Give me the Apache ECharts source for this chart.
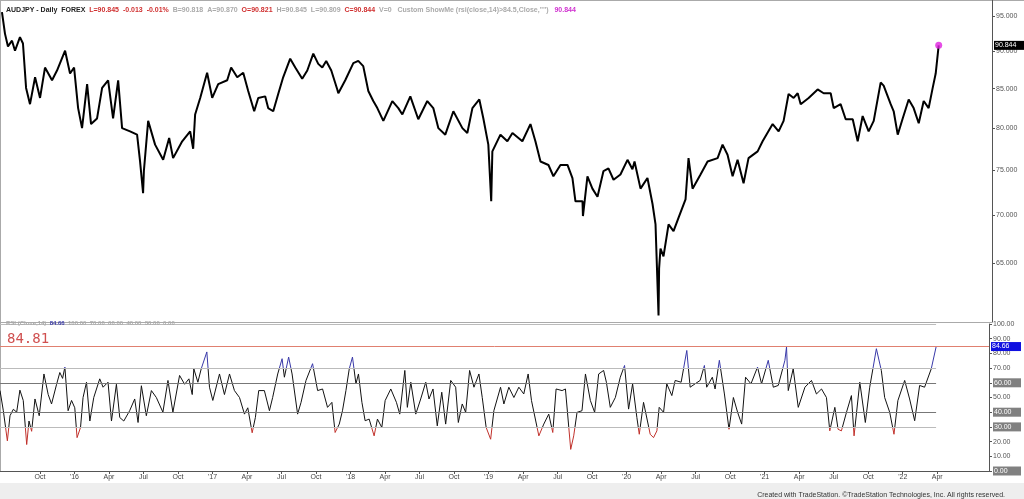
<!DOCTYPE html>
<html>
<head>
<meta charset="utf-8">
<script src="https://cdn.jsdelivr.net/npm/echarts@6/dist/echarts.min.js"></script>
<style>
  html, body { margin: 0; padding: 0; background: #fff; }
  #chart { width: 1024px; height: 499px; }
</style>
</head>
<body>
<div id="chart"></div>
<script>
// x values are months counted from Jul 2015 (0 = Jul 2015, 6 = Jan 2016 ...)
var priceMonths = [-0.30, -0.04, 0.22, 0.57, 0.83, 1.26, 1.52, 1.79, 2.13, 2.57, 3.00, 3.43, 4.04, 4.47, 5.17, 5.60, 5.95, 6.30, 6.64, 7.08,
	7.42, 7.94, 8.38, 8.90, 9.33, 9.77, 10.11, 10.80, 11.41, 11.67, 11.93, 12.00, 12.37, 12.97, 13.67, 14.19, 14.53, 15.32, 16.01, 16.27,
	16.44, 16.88, 17.48, 17.92, 18.44, 19.22, 19.56, 20.09, 20.61, 21.04, 21.56, 21.91, 22.51, 22.77, 23.21, 23.64, 24.07, 24.68, 25.12, 25.72,
	26.16, 26.68, 27.11, 27.46, 27.80, 28.24, 28.76, 28.85, 29.45, 30.15, 30.58, 31.01, 31.45, 31.88, 32.23, 32.75, 33.53, 34.05, 34.40, 35.09,
	35.78, 36.56, 37.08, 37.52, 38.12, 38.82, 39.60, 40.03, 40.47, 41.07, 41.42, 41.85, 42.10, 42.20, 42.90, 43.50, 43.94, 44.80, 45.50, 45.93,
	46.37, 47.06, 47.49, 48.10, 48.71, 49.14, 49.40, 50.01, 50.05, 50.44, 50.87, 51.31, 51.83, 52.26, 52.70, 53.30, 53.91, 54.34, 54.52, 55.04,
	55.64, 56.08, 56.34, 56.60, 56.65, 56.77, 57.03, 57.47, 57.90, 58.33, 58.94, 59.20, 59.55, 60.24, 60.85, 61.72, 62.15, 62.58, 63.02, 63.45,
	63.97, 64.40, 65.19, 65.62, 66.49, 67.01, 67.44, 67.87, 68.31, 68.66, 68.92, 69.61, 70.39, 70.91, 71.52, 71.78, 72.38, 72.82, 73.43, 73.86,
	74.29, 74.81, 75.25, 75.85, 76.11, 76.72, 76.98, 77.33, 77.76, 78.28, 78.71, 79.15, 79.58, 80.01, 80.36, 80.62, 80.88];
var priceValues = [95.6, 92.5, 90.7, 91.5, 90.1, 92.0, 91.1, 85.1, 83.0, 86.5, 83.8, 87.8, 86.1, 87.4, 90.1, 87.0, 87.8, 82.5, 80.0, 85.6,
	80.5, 81.2, 85.1, 86.1, 81.2, 86.1, 80.0, 79.6, 79.2, 76.0, 72.4, 74.9, 80.9, 78.0, 76.2, 78.8, 76.4, 78.4, 79.6, 77.5,
	81.7, 83.8, 87.1, 83.8, 85.6, 86.1, 87.8, 86.5, 87.1, 84.7, 82.1, 83.8, 84.0, 82.5, 82.1, 84.3, 86.5, 89.0, 87.8, 86.3,
	87.4, 89.7, 88.3, 87.8, 88.7, 87.4, 84.9, 84.4, 86.1, 88.4, 88.7, 88.0, 84.7, 83.4, 82.5, 80.9, 83.4, 82.5, 81.7, 84.0,
	81.1, 83.4, 82.5, 80.0, 79.2, 82.1, 80.0, 79.4, 82.5, 83.6, 81.2, 78.0, 71.5, 77.2, 79.2, 78.4, 79.4, 78.4, 80.5, 78.4,
	76.0, 75.6, 74.3, 75.6, 75.6, 74.1, 71.5, 71.5, 69.9, 74.3, 72.9, 72.0, 74.9, 75.2, 73.9, 74.5, 76.2, 75.1, 76.0, 72.9,
	74.1, 71.2, 69.0, 60.0, 64.5, 66.5, 65.7, 69.0, 68.3, 69.7, 71.7, 76.4, 72.9, 74.5, 76.0, 76.4, 78.0, 76.8, 74.3, 76.2,
	73.5, 76.4, 77.2, 78.4, 80.5, 79.6, 80.9, 84.3, 83.8, 84.4, 83.0, 83.8, 84.9, 84.4, 84.4, 82.5, 83.0, 81.1, 81.1, 78.4,
	81.5, 79.6, 80.9, 85.8, 85.4, 83.0, 82.1, 79.2, 81.2, 83.6, 82.5, 80.6, 83.4, 82.5, 85.1, 87.0, 90.844];

var rsiMonths = [-0.47, -0.18, 0.17, 0.40, 0.69, 0.98, 1.26, 1.55, 1.85, 2.05, 2.28, 2.57, 2.94, 3.35, 3.72, 4.01, 4.45, 4.73, 4.97, 5.17,
	5.45, 5.75, 6.03, 6.23, 6.53, 6.75, 7.05, 7.34, 7.68, 8.20, 8.49, 8.92, 9.22, 9.65, 9.94, 10.29, 10.80, 11.24, 11.53, 11.82,
	12.25, 12.69, 13.12, 13.69, 14.13, 14.56, 15.14, 15.58, 15.95, 16.24, 16.38, 16.73, 17.02, 17.51, 17.74, 18.03, 18.61, 19.04, 19.48, 19.91,
	20.35, 20.78, 21.07, 21.45, 21.73, 22.02, 22.51, 22.95, 23.23, 23.67, 24.05, 24.25, 24.62, 24.92, 25.40, 25.70, 26.13, 26.70, 27.14, 27.57,
	28.00, 28.38, 28.66, 29.02, 29.30, 29.60, 29.89, 30.17, 30.47, 30.69, 30.99, 31.27, 31.62, 32.05, 32.34, 32.72, 33.01, 33.50, 33.99, 34.28,
	34.72, 34.94, 35.24, 35.67, 36.10, 36.54, 36.82, 37.17, 37.54, 37.93, 38.27, 38.71, 39.14, 39.37, 39.71, 40.01, 40.35, 40.73, 41.16, 41.45,
	41.79, 42.18, 42.46, 43.04, 43.33, 43.76, 44.20, 44.63, 45.06, 45.44, 45.73, 46.37, 46.80, 47.23, 47.58, 47.87, 48.39, 48.68, 49.14, 49.40,
	49.69, 50.12, 50.42, 50.85, 51.22, 51.57, 52.00, 52.24, 52.58, 53.02, 53.45, 53.82, 54.17, 54.52, 54.89, 55.10, 55.47, 56.05, 56.34, 56.63,
	56.83, 57.21, 57.49, 57.93, 58.22, 58.74, 59.23, 59.52, 59.95, 60.39, 60.76, 60.96, 61.45, 61.69, 62.06, 62.50, 62.90, 63.28, 63.65, 64.00,
	64.34, 64.81, 65.38, 65.73, 66.31, 66.75, 67.18, 67.76, 67.90, 68.05, 68.48, 68.92, 69.50, 70.07, 70.50, 70.94, 71.37, 71.66, 72.10, 72.38,
	72.67, 73.11, 73.54, 73.77, 74.27, 74.75, 75.13, 75.71, 76.14, 76.43, 76.87, 77.24, 77.58, 78.17, 78.60, 79.04, 79.47, 79.90, 80.48, 80.91];
var rsiValues = [54.7, 41, 20.5, 37.6, 42, 40, 55, 48, 18, 34, 27, 49, 37.6, 66, 52, 45.6, 59, 67, 63, 70.7,
	41, 48, 43, 22.7, 29.6, 50, 60.4, 34, 50, 62.7, 57, 60.4, 34, 59, 36.4, 34, 41, 49, 33, 58,
	37.6, 54.7, 50, 40, 61.6, 40, 65, 59, 62.7, 52, 69.5, 60.4, 69.5, 81, 57, 48, 66, 52, 66, 54.7,
	50, 38.7, 43, 26, 36.4, 54.7, 54.7, 41, 50, 66, 76.4, 63.8, 77.5, 66, 38.7, 46.7, 61.6, 73, 54.7, 55.8,
	43.3, 46.7, 26.2, 31.9, 41, 54.7, 69.5, 77.5, 59.3, 66, 46.7, 34.2, 35.3, 23.9, 35.3, 29.6, 47.9, 55.8, 46.7, 38.7,
	68.4, 43.3, 60.4, 38.7, 49, 60.4, 49, 55.8, 30.7, 53.6, 31.9, 61.6, 57, 33, 45.6, 39.9, 68.4, 57, 66, 50,
	29.6, 21.6, 41, 57, 45.6, 57, 50, 57, 52.4, 66, 47.9, 23.9, 31.9, 38.7, 26.2, 55.8, 54.7, 55.8, 14.7, 23.9,
	39.9, 41, 66, 47.9, 39.9, 66, 68.4, 60.4, 43.3, 50, 63.8, 71.8, 42.1, 59.3, 36.4, 25, 46.7, 25, 22.7, 27.3,
	43.3, 39.9, 59.3, 51.3, 61.6, 60.4, 82, 57, 59.3, 61.6, 71.8, 57, 63.8, 55.8, 75.3, 52.4, 28.4, 50, 39.9, 31.9,
	63.8, 59.3, 70.7, 59.3, 75.3, 57, 58.2, 75.3, 84.4, 54.7, 69.5, 43.3, 57, 61.6, 52.4, 55.8, 50, 27.3, 43.3, 28.4,
	27.3, 39.9, 51.3, 23.9, 60.4, 33, 57, 83.2, 68.4, 50, 39.9, 25, 47.9, 61.6, 49, 34.2, 58.2, 57, 69.5, 84.7];

var priceTicks = [65, 70, 75, 80, 85, 90, 95];
var rsiLevels = [100, 70, 60, 40, 30];
var monthTicks = [];
for (var t = 3; t <= 81; t += 3) monthTicks.push(t);
var lastPrice = 90.844;
var lastRsi = 84.66;
var rsiTrigger = 84.81;

var xMin = -0.47, xMax = 85.5, dataEnd = 80.9;

function zip(a, b) {
	var out = [];
	for (var i = 0; i < a.length; i++) out.push([a[i], b[i]]);
	return out;
}

function monthLabel(v) {
	var k = Math.round(v);
	var mod = ((k % 12) + 12) % 12;
	if (mod === 0) return 'Jul';
	if (mod === 3) return 'Oct';
	if (mod === 9) return 'Apr';
	var yr = 2016 + (k - 6) / 12;
	return "'" + String(yr).slice(2);
}

var font = 'Liberation Sans, Arial, sans-serif';

var myChart = echarts.init(document.getElementById('chart'));
myChart.setOption({
	animation: false,
	backgroundColor: '#fff',
	title: [{
		left: 1, top: 2,
		text: '{k|AUDJPY - Daily  FOREX}  {r|L=90.845  -0.013  -0.01%}  {g|B=90.818  A=90.870}  {r|O=90.821}  {g|H=90.845  L=90.809}  {r|C=90.844}  {g|V=0   Custom ShowMe (rsi(close,14)>84.5,Close,"")}   {m|90.844}',
		textStyle: {
			fontFamily: font, fontSize: 7,
			rich: {
				k: { color: '#222', fontSize: 7 },
				r: { color: '#d03030', fontSize: 7 },
				g: { color: '#aaa', fontSize: 7 },
				m: { color: '#d030d0', fontSize: 7 }
			}
		}
	}, {
		left: 1, top: 315,
		text: '{g|RSI (Close,14)}  {b|84.66}  {g|100.00  70.00  60.00  40.00  30.00  0.00}',
		textStyle: {
			fontFamily: font, fontSize: 6,
			rich: {
				g: { color: '#aaa', fontSize: 6 },
				b: { color: '#3a3aa8', fontSize: 6, fontWeight: 'bold' }
			}
		}
	}, {
		left: 2, top: 327,
		text: String(rsiTrigger),
		textStyle: { fontFamily: 'DejaVu Sans Mono, monospace', fontSize: 14, fontWeight: 'normal', color: '#d05050' }
	}, {
		right: 14, top: 487,
		text: 'Created with TradeStation. \u00A9TradeStation Technologies, Inc. All rights reserved.',
		textStyle: { fontFamily: font, fontSize: 7, fontWeight: 'normal', color: '#333' }
	}],
	graphic: [{
		type: 'rect', shape: { x: 0, y: 483, width: 1024, height: 16 },
		style: { fill: '#eee' }, z: -1
	}, {
		type: 'line', shape: { x1: 0, y1: 0.5, x2: 1024, y2: 0.5 },
		style: { stroke: '#aaa', lineWidth: 1 }
	}, {
		type: 'line', shape: { x1: 0.5, y1: 0, x2: 0.5, y2: 472 },
		style: { stroke: '#aaa', lineWidth: 1 }
	}],
	grid: [
		{ left: 0, right: 32, top: 0, height: 322 },
		{ left: 0, right: 32, top: 324, height: 147 }
	],
	xAxis: [{
		type: 'value', gridIndex: 0, min: xMin, max: xMax,
		axisLine: { show: true, onZero: false, lineStyle: { color: '#aaa' } },
		axisTick: { show: false }, axisLabel: { show: false }, splitLine: { show: false }
	}, {
		type: 'value', gridIndex: 1, min: xMin, max: xMax,
		axisLine: { show: true, onZero: false, lineStyle: { color: '#555' } },
		axisTick: { show: true, customValues: monthTicks, length: 3, lineStyle: { color: '#555' } },
		axisLabel: {
			customValues: monthTicks, formatter: monthLabel,
			fontFamily: font, fontSize: 7, color: '#444', margin: 3
		},
		splitLine: { show: false }
	}],
	yAxis: [{
		type: 'log', gridIndex: 0, position: 'right', min: 59.4, max: 97.4,
		axisLine: { show: true, onZero: false, lineStyle: { color: '#555' } },
		axisTick: { show: true, customValues: priceTicks, length: 3, lineStyle: { color: '#555' } },
		axisLabel: {
			customValues: priceTicks,
			formatter: function (v) { return v.toFixed(3); },
			fontFamily: font, fontSize: 7, color: '#555', margin: 4
		},
		splitLine: { show: false }
	}, {
		type: 'value', gridIndex: 1, position: 'right', min: 0, max: 100, interval: 10,
		axisLine: { show: true, onZero: false, lineStyle: { color: '#555' } },
		axisTick: { show: true, length: 3, lineStyle: { color: '#555' } },
		axisLabel: {
			fontFamily: font, fontSize: 7, margin: 4, color: '#555',
			formatter: function (v) {
				var s = v.toFixed(2);
				if (v === 60 || v === 40 || v === 30 || v === 0) return '{box|' + s + '}';
				return s;
			},
			rich: {
				box: { backgroundColor: '#808080', color: '#fff', fontSize: 7, width: 26, padding: [1, 1, 1, 1] }
			}
		},
		splitLine: { show: false }
	}],
	visualMap: {
		show: false, seriesIndex: 1, dimension: 1,
		pieces: [
			{ lt: 30, color: '#c0302a' },
			{ gte: 30, lte: 70, color: '#111' },
			{ gt: 70, color: '#3838a8' }
		]
	},
	series: [{
		name: 'AUDJPY',
		type: 'line', xAxisIndex: 0, yAxisIndex: 0,
		data: zip(priceMonths, priceValues),
		showSymbol: false, symbol: 'none',
		lineStyle: { color: '#000', width: 2 },
		markLine: {
			silent: true, symbol: 'none',
			lineStyle: { color: 'rgba(0,0,0,0)', width: 0 },
			label: {
				show: true, position: 'end', distance: 2,
				formatter: String(lastPrice),
				backgroundColor: '#000', color: '#fff', fontFamily: font, fontSize: 7, padding: [1, 3, 1, 1], width: 26
			},
			data: [[{ coord: [dataEnd, lastPrice] }, { coord: [xMax, lastPrice] }]]
		}
	}, {
		name: 'RSI',
		type: 'line', xAxisIndex: 1, yAxisIndex: 1,
		data: zip(rsiMonths, rsiValues),
		showSymbol: false, symbol: 'none',
		lineStyle: { width: 1 },
		z: 3,
		markLine: {
			silent: true, symbol: 'none',
			label: { show: false },
			data: rsiLevels.map(function (lv) {
				var c = (lv === 60 || lv === 40) ? '#777' : '#bbb';
				return [{ coord: [xMin, lv], lineStyle: { color: c, width: 1.2, type: 'solid' } }, { coord: [dataEnd, lv] }];
			}).concat([
				[{ coord: [xMin, rsiTrigger], lineStyle: { color: '#e08070', width: 1, type: 'solid' } }, { coord: [xMax, rsiTrigger] }],
				[{
					coord: [dataEnd, lastRsi], lineStyle: { color: 'rgba(0,0,0,0)', width: 0 },
					label: {
						show: true, position: 'end', distance: 2, formatter: String(lastRsi),
						backgroundColor: '#1010e0', color: '#fff', fontFamily: font, fontSize: 7, padding: [1, 3, 1, 1], width: 26
					}
				}, { coord: [xMax, lastRsi] }]
			])
		}
	}, {
		name: 'ShowMe',
		type: 'scatter', xAxisIndex: 0, yAxisIndex: 0,
		data: [[80.88, lastPrice]],
		symbolSize: 7,
		itemStyle: { color: '#e020e0' },
		z: 5
	}]
});
window.addEventListener('resize', function () { myChart.resize(); });
</script>
</body>
</html>
